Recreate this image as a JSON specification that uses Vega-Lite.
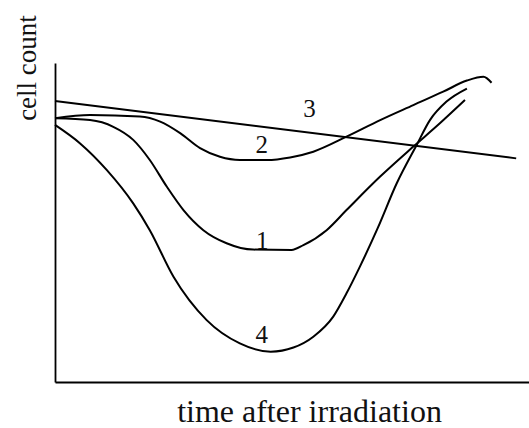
{
  "$schema": "https://vega.github.io/schema/vega-lite/v6.json",
  "autosize": "none",
  "width": 474,
  "height": 319,
  "padding": {"left": 55, "top": 63, "right": 0, "bottom": 46},
  "background": "white",
  "config": {"view": {"stroke": null}},
  "datasets": {
    "curves": [
      {"series": "3", "t": 0, "count": 88.1},
      {"series": "3", "t": 97.3, "count": 70.1},
      {"series": "2", "t": 0, "count": 82.7},
      {"series": "2", "t": 7.4, "count": 83.7},
      {"series": "2", "t": 17.9, "count": 83.2},
      {"series": "2", "t": 22.2, "count": 81.6},
      {"series": "2", "t": 26.4, "count": 78.0},
      {"series": "2", "t": 30.6, "count": 73.3},
      {"series": "2", "t": 34.8, "count": 70.6},
      {"series": "2", "t": 39.0, "count": 69.6},
      {"series": "2", "t": 44.7, "count": 69.6},
      {"series": "2", "t": 49.6, "count": 70.4},
      {"series": "2", "t": 54.5, "count": 72.2},
      {"series": "2", "t": 61.5, "count": 76.9},
      {"series": "2", "t": 68.6, "count": 82.1},
      {"series": "2", "t": 75.6, "count": 86.8},
      {"series": "2", "t": 81.9, "count": 91.0},
      {"series": "2", "t": 86.9, "count": 94.5},
      {"series": "2", "t": 90.4, "count": 95.7},
      {"series": "2", "t": 92.1, "count": 93.8},
      {"series": "1", "t": 0, "count": 82.7},
      {"series": "1", "t": 7.4, "count": 82.1},
      {"series": "1", "t": 12.3, "count": 80.0},
      {"series": "1", "t": 16.5, "count": 75.9},
      {"series": "1", "t": 20.0, "count": 69.6},
      {"series": "1", "t": 23.6, "count": 61.2},
      {"series": "1", "t": 27.1, "count": 53.9},
      {"series": "1", "t": 31.3, "count": 47.6},
      {"series": "1", "t": 36.2, "count": 43.5},
      {"series": "1", "t": 41.8, "count": 41.5},
      {"series": "1", "t": 49.9, "count": 41.4},
      {"series": "1", "t": 52.4, "count": 42.9},
      {"series": "1", "t": 57.3, "count": 47.6},
      {"series": "1", "t": 61.5, "count": 53.9},
      {"series": "1", "t": 68.6, "count": 64.4},
      {"series": "1", "t": 75.6, "count": 73.8},
      {"series": "1", "t": 81.2, "count": 81.1},
      {"series": "1", "t": 86.5, "count": 88.4},
      {"series": "4", "t": 0, "count": 80.6},
      {"series": "4", "t": 5.3, "count": 74.8},
      {"series": "4", "t": 10.9, "count": 66.5},
      {"series": "4", "t": 16.5, "count": 56.0},
      {"series": "4", "t": 20.0, "count": 47.6},
      {"series": "4", "t": 25.0, "count": 33.0},
      {"series": "4", "t": 32.0, "count": 19.4},
      {"series": "4", "t": 39.0, "count": 12.1},
      {"series": "4", "t": 45.5, "count": 9.5},
      {"series": "4", "t": 50.3, "count": 10.8},
      {"series": "4", "t": 54.5, "count": 14.2},
      {"series": "4", "t": 58.7, "count": 20.5},
      {"series": "4", "t": 61.5, "count": 27.8},
      {"series": "4", "t": 64.3, "count": 36.1},
      {"series": "4", "t": 68.1, "count": 48.3},
      {"series": "4", "t": 72.1, "count": 62.3},
      {"series": "4", "t": 76.3, "count": 74.3},
      {"series": "4", "t": 79.1, "count": 82.1},
      {"series": "4", "t": 82.6, "count": 87.9},
      {"series": "4", "t": 86.9, "count": 92.0}
    ],
    "labels": [
      {"label": "1", "t": 43.7, "count": 41.7},
      {"label": "2", "t": 43.6, "count": 71.8},
      {"label": "3", "t": 53.7, "count": 83.2},
      {"label": "4", "t": 43.6, "count": 12.2}
    ]
  },
  "layer": [
    {
      "data": {"name": "curves"},
      "mark": {"type": "line", "interpolate": "monotone", "color": "black", "strokeWidth": 2},
      "encoding": {
        "x": {
          "field": "t", "type": "quantitative",
          "scale": {"domain": [0, 100], "nice": false, "zero": false},
          "axis": {
            "title": "time after irradiation",
            "ticks": false, "labels": false, "grid": false,
            "domainColor": "black", "domainWidth": 1.8,
            "titleFont": "Liberation Serif", "titleFontSize": 32, "titleFontWeight": "normal",
            "titleColor": "#111", "titleX": 254, "titleY": 39, "titleAlign": "center", "titleBaseline": "alphabetic"
          }
        },
        "y": {
          "field": "count", "type": "quantitative",
          "scale": {"domain": [0, 100], "nice": false, "zero": false},
          "axis": {
            "title": "cell count",
            "ticks": false, "labels": false, "grid": false,
            "domainColor": "black", "domainWidth": 1.8,
            "titleFont": "Liberation Serif", "titleFontSize": 27, "titleFontWeight": "normal",
            "titleColor": "#111", "titleAngle": -90, "titleX": -20, "titleY": 4.5, "titleAlign": "center", "titleBaseline": "alphabetic"
          }
        },
        "detail": {"field": "series", "type": "nominal"}
      }
    },
    {
      "data": {"name": "labels"},
      "mark": {"type": "text", "font": "Liberation Serif", "fontSize": 25, "color": "#111", "align": "center", "baseline": "alphabetic"},
      "encoding": {
        "x": {"field": "t", "type": "quantitative"},
        "y": {"field": "count", "type": "quantitative"},
        "text": {"field": "label", "type": "nominal"}
      }
    }
  ]
}
